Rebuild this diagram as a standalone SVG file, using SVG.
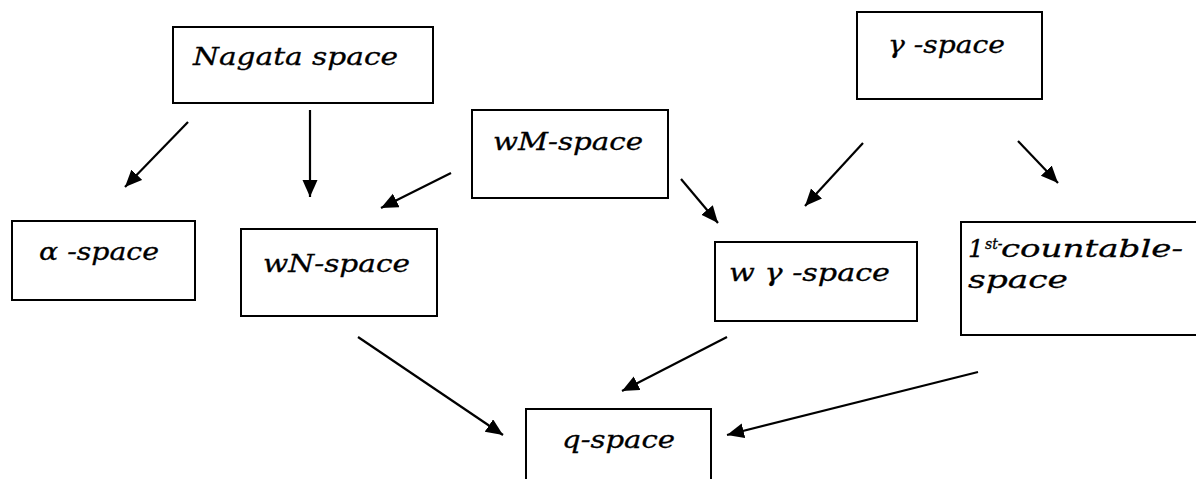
<svg xmlns="http://www.w3.org/2000/svg" width="1196" height="479" viewBox="0 0 1196 479">
<style>
.box{fill:#fff;stroke:#000;stroke-width:2}
.lbl{font-family:"DejaVu Serif","Liberation Serif",serif;font-style:italic;font-size:25px;fill:#000;stroke:#000;stroke-width:0.3}
.edge{stroke:#000;stroke-width:2.2;fill:none;marker-end:url(#ah)}
</style>
<defs>
<marker id="ah" markerUnits="userSpaceOnUse" markerWidth="18" markerHeight="16" refX="17" refY="7.5" orient="auto">
<path d="M0,0 L17,7.5 L0,15 z" fill="#000"/>
</marker>
</defs>
<rect width="1196" height="479" fill="#fff"/>
<g id="nagata"><rect class="box" x="173" y="27" width="260" height="76"/><text class="lbl" x="193" y="65" textLength="205" lengthAdjust="spacingAndGlyphs">Nagata space</text></g>
<g id="gamma"><rect class="box" x="857" y="12" width="185" height="87"/><text class="lbl" x="888" y="53" textLength="117" lengthAdjust="spacingAndGlyphs">γ -space</text></g>
<g id="wm"><rect class="box" x="472" y="110" width="196" height="88"/><text class="lbl" x="493" y="150" textLength="150" lengthAdjust="spacingAndGlyphs">wM-space</text></g>
<g id="alpha"><rect class="box" x="12" y="221" width="183" height="79"/><text class="lbl" x="39" y="260" textLength="120" lengthAdjust="spacingAndGlyphs">α -space</text></g>
<g id="wn"><rect class="box" x="241" y="229" width="196" height="87"/><text class="lbl" x="263" y="272" textLength="147" lengthAdjust="spacingAndGlyphs">wN-space</text></g>
<g id="wgamma"><rect class="box" x="715" y="242" width="202" height="79"/><text class="lbl" x="729" y="281" textLength="161" lengthAdjust="spacingAndGlyphs">w γ -space</text></g>
<g id="first"><rect class="box" x="961" y="222" width="240" height="113"/><text class="lbl"><tspan x="968" y="257">1</tspan><tspan x="985" y="249" font-size="14">st-</tspan><tspan x="1001" y="257" textLength="182" lengthAdjust="spacingAndGlyphs">countable-</tspan><tspan x="968" y="288" textLength="100" lengthAdjust="spacingAndGlyphs">space</tspan></text></g>
<g id="q"><rect class="box" x="526" y="409" width="185" height="80"/><text class="lbl" x="562" y="448" textLength="113" lengthAdjust="spacingAndGlyphs">q-space</text></g>
<g id="connectors">
<line class="edge" x1="188" y1="122" x2="125" y2="187"/>
<line class="edge" x1="310" y1="110" x2="310" y2="197"/>
<line class="edge" x1="451" y1="173" x2="381" y2="208"/>
<line class="edge" x1="681" y1="179" x2="718" y2="223"/>
<line class="edge" x1="863" y1="143" x2="805" y2="206"/>
<line class="edge" x1="1018" y1="141" x2="1058" y2="183"/>
<line class="edge" x1="358" y1="337" x2="503" y2="435"/>
<line class="edge" x1="727" y1="337" x2="622" y2="391"/>
<line class="edge" x1="978" y1="372" x2="727" y2="435"/>
</g>
</svg>
